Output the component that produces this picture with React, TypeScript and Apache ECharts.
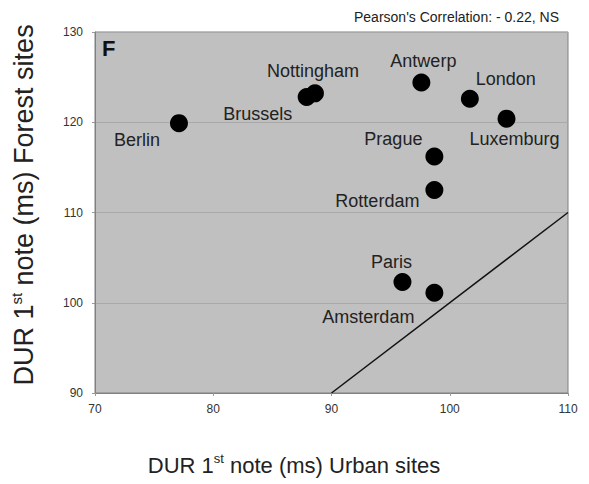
import React, { useEffect, useRef } from "react";
import * as echarts from "echarts";

const cities = ["Berlin", "Brussels", "Nottingham", "Antwerp", "London", "Luxemburg", "Prague", "Rotterdam", "Paris", "Amsterdam"];
const urbanDur = [77.1, 87.9, 88.6, 97.6, 101.7, 104.8, 98.7, 98.7, 96.0, 98.7];
const forestDur = [119.9, 122.8, 123.2, 124.4, 122.6, 120.4, 116.2, 112.5, 102.3, 101.1];
const identityLine = [[90, 90], [110, 110]];
const xTicks = [70, 80, 90, 100, 110];
const yTicks = [90, 100, 110, 120, 130];

// label placement (pixels relative to each point)
const labelOffsets = [[-42, 17], [-49, 17], [-2, -22], [2, -22], [36, -20], [8, 20], [-41, -18], [-57, 11], [-11, -20], [-66, 24]];

const FONT = "Liberation Sans, Arial, sans-serif";

export default function App() {
  const ref = useRef<HTMLDivElement>(null);
  useEffect(() => {
    document.body.style.margin = "0";
    if (!ref.current) return;
    const chart = echarts.init(ref.current, null, { renderer: "svg" });
    const points = cities.map((c, i) => ({
      name: c,
      value: [urbanDur[i], forestDur[i]],
      label: { offset: labelOffsets[i] },
    }));
    chart.setOption({
      animation: false,
      backgroundColor: "#ffffff",
      grid: {
        left: 95,
        right: 21,
        top: 32,
        bottom: 91,
        show: true,
        backgroundColor: "#c0c0c0",
        borderColor: "#808080",
        borderWidth: 1,
      },
      xAxis: {
        type: "value",
        min: xTicks[0],
        max: xTicks[xTicks.length - 1],
        interval: 10,
        axisLine: { show: true, lineStyle: { color: "#808080", width: 1 } },
        axisTick: { show: true, length: 3, lineStyle: { color: "#999" } },
        splitLine: { show: false },
        axisLabel: { color: "#333", fontSize: 12, fontFamily: FONT, margin: 10 },
      },
      yAxis: {
        type: "value",
        min: yTicks[0],
        max: yTicks[yTicks.length - 1],
        interval: 10,
        axisLine: { show: true, lineStyle: { color: "#808080", width: 1 } },
        axisTick: { show: true, length: 3, lineStyle: { color: "#999" } },
        splitLine: { show: true, lineStyle: { color: "#a9a9a9", width: 1 } },
        axisLabel: { color: "#333", fontSize: 12, fontFamily: FONT, margin: 12 },
      },
      graphic: [
        {
          type: "text",
          x: 294,
          y: 465,
          style: {
            text: "{a|DUR 1}{b|st}{a| note (ms) Urban sites}",
            align: "center",
            verticalAlign: "middle",
            rich: {
              a: { fontSize: 22, fontFamily: FONT, fill: "#222", lineHeight: 26 },
              b: { fontSize: 13, fontFamily: FONT, fill: "#222", verticalAlign: "top", lineHeight: 26 },
            },
          },
        },
        {
          type: "text",
          x: 24,
          y: 205,
          rotation: Math.PI / 2,
          style: {
            text: "{a|DUR 1}{b|st}{a| note (ms) Forest sites}",
            align: "center",
            verticalAlign: "middle",
            rich: {
              a: { fontSize: 27, fontFamily: FONT, fill: "#222", lineHeight: 30 },
              b: { fontSize: 15, fontFamily: FONT, fill: "#222", verticalAlign: "top", lineHeight: 30 },
            },
          },
        },
        {
          type: "text",
          x: 559,
          y: 17,
          style: {
            text: "Pearson's Correlation: - 0.22, NS",
            align: "right",
            verticalAlign: "middle",
            fontSize: 14,
            fontFamily: FONT,
            fill: "#222",
          },
        },
        {
          type: "text",
          x: 102,
          y: 48,
          style: {
            text: "F",
            align: "left",
            verticalAlign: "middle",
            fontSize: 22,
            fontWeight: "bold",
            fontFamily: FONT,
            fill: "#111",
          },
        },
      ],
      series: [
        {
          type: "line",
          data: identityLine,
          showSymbol: false,
          symbol: "none",
          lineStyle: { color: "#111", width: 1.5 },
          silent: true,
          z: 2,
        },
        {
          type: "scatter",
          data: points,
          symbolSize: 18,
          itemStyle: { color: "#000", opacity: 1 },
          label: {
            show: true,
            position: "inside",
            formatter: "{b}",
            color: "#222",
            fontSize: 18,
            fontFamily: FONT,
          },
          z: 3,
        },
      ],
    });
    return () => chart.dispose();
  }, []);
  return <div ref={ref} style={{ width: 589, height: 484 }} />;
}
